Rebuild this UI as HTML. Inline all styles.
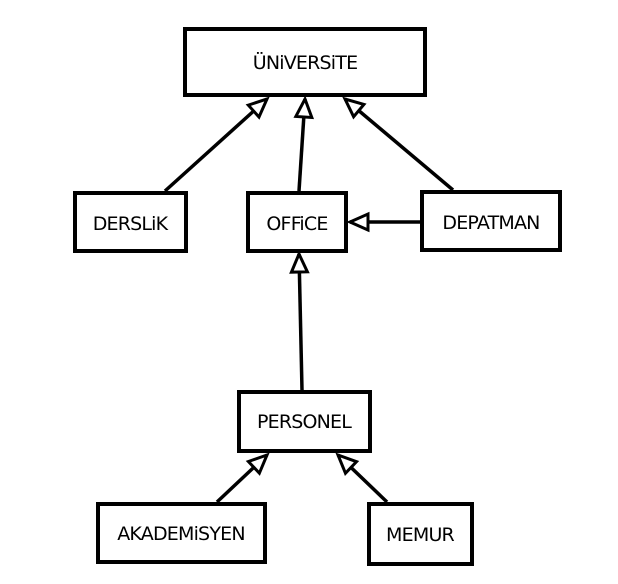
<!DOCTYPE html>
<html><head><style>html,body{margin:0;padding:0;background:#fff}svg{display:block}</style></head>
<body>
<svg width="618" height="584" viewBox="0 0 618 584" xmlns="http://www.w3.org/2000/svg">
<defs>
<marker id="a" markerWidth="24" markerHeight="24" refX="20" refY="10" orient="auto" markerUnits="userSpaceOnUse" viewBox="0 0 24 20">
<path d="M2,2 L20,10 L2,18 Z" fill="#fff" stroke="#000" stroke-width="3"/>
</marker>
</defs>
<g fill="none" stroke="#000" stroke-width="4">
<rect x="185" y="29" width="240" height="66"/>
<rect x="75" y="193" width="111" height="58"/>
<rect x="248" y="193" width="98" height="58"/>
<rect x="422" y="192" width="138" height="58"/>
<rect x="239" y="392" width="131" height="59"/>
<rect x="98" y="504" width="167" height="58"/>
<rect x="369" y="504" width="103" height="60"/>
</g>
<g stroke="#000" stroke-width="3.5" fill="none">
<line x1="165" y1="191" x2="267" y2="99" marker-end="url(#a)"/>
<line x1="299" y1="191" x2="305" y2="99" marker-end="url(#a)"/>
<line x1="453" y1="190" x2="345" y2="99" marker-end="url(#a)"/>
<line x1="420" y1="222" x2="350" y2="222" marker-end="url(#a)"/>
<line x1="302" y1="390" x2="299" y2="254" marker-end="url(#a)"/>
<line x1="217" y1="502" x2="267" y2="455" marker-end="url(#a)"/>
<line x1="387" y1="502" x2="338" y2="455" marker-end="url(#a)"/>
</g>
<g font-family="'DejaVu Sans','Liberation Sans',sans-serif" font-size="19" text-anchor="middle" fill="#000" letter-spacing="-0.8">
<text x="305" y="69">ÜNiVERSiTE</text>
<text x="130" y="230">DERSLiK</text>
<text x="297" y="230">OFFiCE</text>
<text x="491" y="229">DEPATMAN</text>
<text x="304" y="428">PERSONEL</text>
<text x="181" y="540">AKADEMiSYEN</text>
<text x="420" y="541">MEMUR</text>
</g>
</svg>
</body></html>
